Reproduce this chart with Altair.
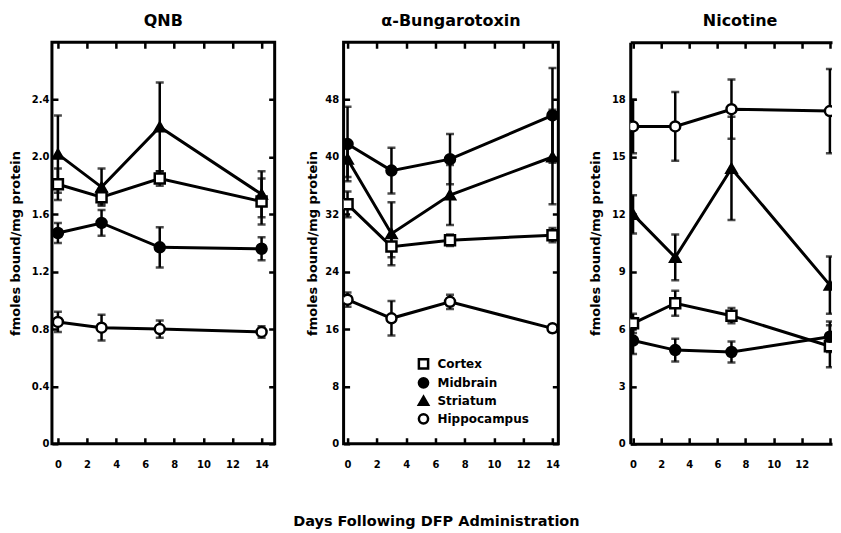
import altair as alt
import pandas as pd

FONT = "DejaVu Sans"

days = [0, 3, 7, 14]
regions = ["Cortex", "Midbrain", "Striatum", "Hippocampus"]
region_shapes = ["square", "circle", "triangle-up", "circle"]
region_fills = ["white", "black", "black", "white"]
region_strokes = ["black", "black", "black", "black"]

# QNB (fmoles bound / mg protein)
qnb_cortex = [1.81, 1.72, 1.85, 1.69]
qnb_cortex_err = [0.11, 0.05, 0.05, 0.16]
qnb_midbrain = [1.47, 1.54, 1.37, 1.36]
qnb_midbrain_err = [0.07, 0.09, 0.14, 0.08]
qnb_striatum = [2.02, 1.79, 2.21, 1.74]
qnb_striatum_err = [0.27, 0.13, 0.31, 0.16]
qnb_hippocampus = [0.85, 0.81, 0.80, 0.78]
qnb_hippocampus_err = [0.07, 0.09, 0.06, 0.04]

# alpha-Bungarotoxin
btx_cortex = [33.4, 27.5, 28.4, 29.1]
btx_cortex_err = [1.8, 1.5, 0.8, 1.0]
btx_midbrain = [41.8, 38.1, 39.7, 45.8]
btx_midbrain_err = [5.2, 3.2, 3.5, 6.6]
btx_striatum = [39.7, 29.3, 34.7, 40.0]
btx_striatum_err = [2.5, 4.4, 4.2, 6.6]
btx_hippocampus = [20.1, 17.5, 19.8, 16.1]
btx_hippocampus_err = [1.0, 2.4, 1.0, 0.5]

# Nicotine
nic_cortex = [6.3, 7.35, 6.7, 5.1]
nic_cortex_err = [0.5, 0.65, 0.4, 1.1]
nic_midbrain = [5.4, 4.9, 4.8, 5.6]
nic_midbrain_err = [0.7, 0.6, 0.55, 0.8]
nic_striatum = [12.0, 9.75, 14.4, 8.3]
nic_striatum_err = [1.0, 1.2, 2.7, 1.5]
nic_hippocampus = [16.6, 16.6, 17.5, 17.4]
nic_hippocampus_err = [1.4, 1.8, 1.55, 2.2]

day_ticks = [0, 2, 4, 6, 8, 10, 12, 14]
qnb_ticks = [0, 0.4, 0.8, 1.2, 1.6, 2.0, 2.4]
btx_ticks = [0, 8, 16, 24, 32, 40, 48]
nic_ticks = [0, 3, 6, 9, 12, 15, 18]

y_title = "fmoles bound/mg protein"
x_title = "Days Following DFP Administration"


def make_df(vals, errs):
    rows = []
    for region, v, e in zip(regions, vals, errs):
        for d, vv, ee in zip(days, v, e):
            rows.append({"region": region, "day": d, "value": vv,
                         "lo": vv - ee, "hi": vv + ee})
    return pd.DataFrame(rows)


qnb_df = make_df([qnb_cortex, qnb_midbrain, qnb_striatum, qnb_hippocampus],
                 [qnb_cortex_err, qnb_midbrain_err, qnb_striatum_err, qnb_hippocampus_err])
btx_df = make_df([btx_cortex, btx_midbrain, btx_striatum, btx_hippocampus],
                 [btx_cortex_err, btx_midbrain_err, btx_striatum_err, btx_hippocampus_err])
nic_df = make_df([nic_cortex, nic_midbrain, nic_striatum, nic_hippocampus],
                 [nic_cortex_err, nic_midbrain_err, nic_striatum_err, nic_hippocampus_err])

H = 402

legend = alt.Legend(orient="none", legendX=366, legendY=316, title=None,
                    labelFont=FONT, labelFontWeight="bold", labelFontSize=12,
                    labelColor="black", symbolSize=85, symbolStrokeWidth=2.5,
                    symbolStrokeColor="black", rowPadding=-1, labelOffset=8,
                    padding=0)


def panel(df, title, ydom, yticks, ylabel_expr, xdom, W, lp, tp, open_right=False,
          title_dx=0):
    ydash = [6, 2000] if open_right else [6, W - 12, 6, 2000]
    xdash = [6, H - 12, 6, 2000]
    xlabel_expr = "datum.value == 14 ? '' : datum.label" if open_right else "datum.label"
    xaxis = alt.Axis(values=day_ticks, title=None, ticks=False, domain=open_right,
                     domainColor="black", domainWidth=3,
                     grid=True, gridColor="black", gridWidth=2.5, gridDash=xdash,
                     gridOpacity=1, labelFont=FONT, labelFontWeight="bold",
                     labelFontSize=10, labelColor="black", labelPadding=16,
                     labelExpr=xlabel_expr)
    yaxis = alt.Axis(values=yticks, title=y_title, ticks=False, domain=open_right,
                     domainColor="black", domainWidth=3,
                     grid=True, gridColor="black", gridWidth=2.5, gridDash=ydash,
                     gridOpacity=1, labelFont=FONT, labelFontWeight="bold",
                     labelFontSize=10, labelColor="black", labelPadding=lp,
                     labelExpr=ylabel_expr, titleFont=FONT, titleFontWeight="bold",
                     titleFontSize=13, titleColor="black", titlePadding=tp)
    x = alt.X("day:Q", scale=alt.Scale(domain=xdom, nice=False, zero=False), axis=xaxis)
    y = alt.Y("value:Q", scale=alt.Scale(domain=ydom, nice=False, zero=False), axis=yaxis)
    base = alt.Chart(df)
    lines = base.mark_line(color="black", strokeWidth=3, clip=True).encode(
        x=x, y=y, detail="region:N", order="day:Q")
    bars = base.mark_rule(color="black", strokeWidth=2.5, clip=True).encode(
        x=x, y=alt.Y("lo:Q"), y2="hi:Q")
    cap_lo = base.mark_tick(color="black", orient="horizontal", size=8,
                            thickness=2.5, clip=True).encode(x=x, y=alt.Y("lo:Q"))
    cap_hi = base.mark_tick(color="black", orient="horizontal", size=8,
                            thickness=2.5, clip=True).encode(x=x, y=alt.Y("hi:Q"))
    pts = base.mark_point(filled=True, size=100, strokeWidth=2.5,
                          opacity=1, clip=True).encode(
        x=x, y=y,
        shape=alt.Shape("region:N", scale=alt.Scale(domain=regions, range=region_shapes),
                        legend=legend),
        fill=alt.Fill("region:N", scale=alt.Scale(domain=regions, range=region_fills),
                      legend=legend),
        stroke=alt.Stroke("region:N", scale=alt.Scale(domain=regions, range=region_strokes),
                          legend=legend),
    )
    main = alt.layer(lines, bars, cap_lo, cap_hi, pts)
    ttl = alt.TitleParams(title, font=FONT, fontSize=16, fontWeight="bold",
                          color="black", offset=13, anchor="middle", dx=title_dx)
    if open_right:
        top_axis = alt.Axis(orient="top", title=None, labels=False, ticks=False,
                            grid=False, domain=True, domainColor="black", domainWidth=3)
        top = base.mark_point(opacity=0, clip=True).encode(
            x=alt.X("day:Q", scale=alt.Scale(domain=xdom, nice=False, zero=False),
                    axis=top_axis),
            y=y)
        ch = alt.layer(main, top).resolve_axis(x="independent").properties(
            width=W, height=H, title=ttl,
            view=alt.ViewBackground(stroke="transparent"))
    else:
        ch = main.properties(width=W, height=H, title=ttl,
                             view=alt.ViewBackground(stroke="black", strokeWidth=3))
    return ch


fmt1 = "datum.value == 0 ? '0' : format(datum.value, '.1f')"
fmtn = "datum.label"

p1 = panel(qnb_df, "QNB", [0, 2.8], qnb_ticks, fmt1, [-0.41, 14.9], 223, 3, 8.5)
p2 = panel(btx_df, "α-Bungarotoxin", [0, 56], btx_ticks, fmtn, [-0.27, 14.4], 215, 5, 5)
p3 = panel(nic_df, "Nicotine", [0, 21], nic_ticks, fmtn, [-0.2, 14.15], 202, 5, 8.5,
           open_right=True, title_dx=9)

chart = alt.hconcat(p1, p2, p3, spacing=28).resolve_scale(
    x="independent", y="independent"
).properties(
    title=alt.TitleParams(x_title, orient="bottom", anchor="middle", font=FONT,
                          fontSize=14.5, fontWeight="bold", color="black",
                          offset=44, dx=16),
    padding={"left": 0, "top": 3, "right": 0, "bottom": 0},
    background="white",
).configure_view(stroke="transparent")

chart.save("out.html", embed_options={"renderer": "svg", "actions": False})
